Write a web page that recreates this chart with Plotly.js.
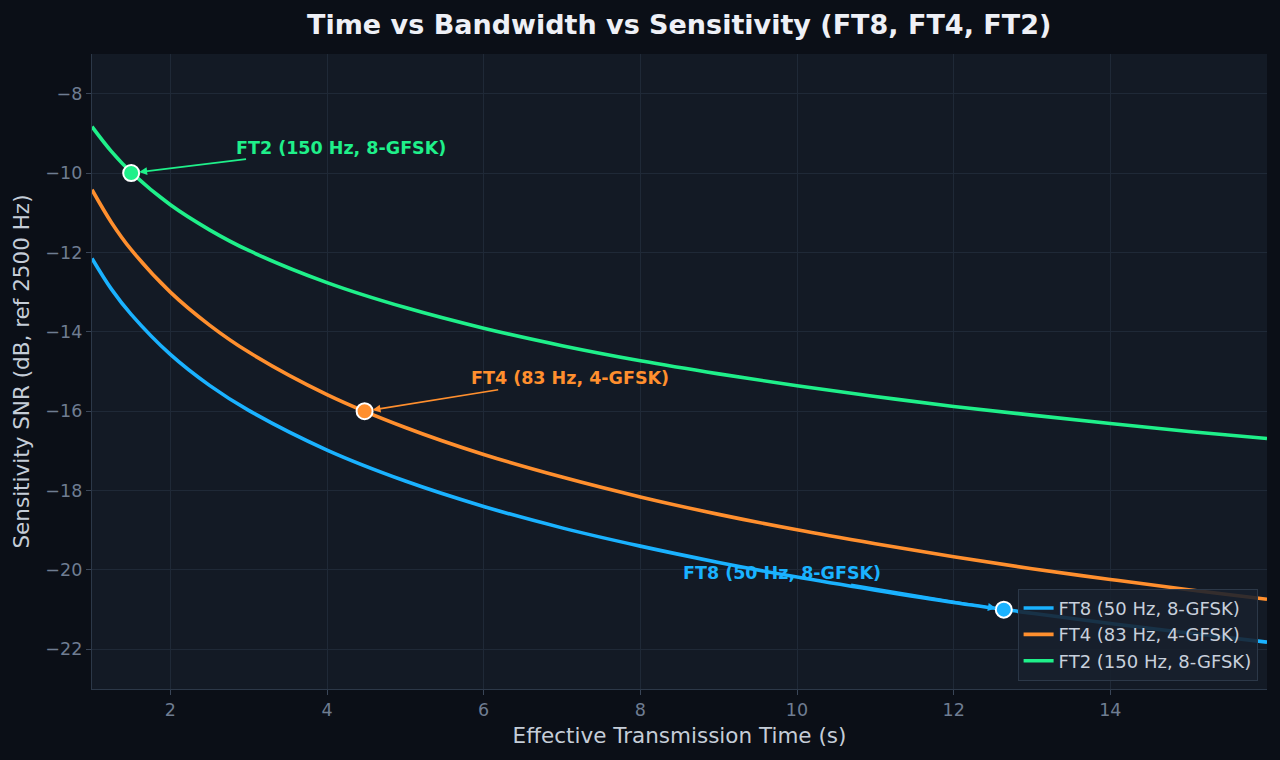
<!DOCTYPE html>
<html>
<head>
<meta charset="utf-8">
<script src="https://cdn.plot.ly/plotly-3.0.1.min.js"></script>
<style>
  html, body { margin: 0; padding: 0; background: #0b0f17; }
  #chart { width: 1280px; height: 760px; }
</style>
</head>
<body>
<div id="chart"></div>
<script>
// Effective transmission time (s)
const timeS = [1, 1.25, 1.5, 2, 2.5, 3, 4, 5, 6, 7, 8, 9, 10, 11, 12, 13, 14, 15, 16];
// Sensitivity SNR (dB, ref 2500 Hz)
const ft8Snr = [-12.15, -12.93, -13.56, -14.57, -15.35, -15.98, -16.98, -17.76, -18.40, -18.94, -19.40, -19.81, -20.18, -20.51, -20.82, -21.09, -21.35, -21.59, -21.82];
const ft4Snr = [-10.42, -11.25, -11.93, -13.00, -13.83, -14.51, -15.58, -16.41, -17.09, -17.66, -18.16, -18.60, -18.99, -19.34, -19.67, -19.97, -20.24, -20.50, -20.74];
const ft2Snr = [-8.83, -9.46, -9.98, -10.80, -11.43, -11.95, -12.76, -13.39, -13.91, -14.35, -14.73, -15.06, -15.36, -15.63, -15.88, -16.10, -16.31, -16.51, -16.69];

const seriesNames = ["FT8 (50 Hz, 8-GFSK)", "FT4 (83 Hz, 4-GFSK)", "FT2 (150 Hz, 8-GFSK)"];
const seriesColors = ["#1ab2ff", "#ff8f2e", "#1ff08a"];

// Operating points of each mode
const opTime = [12.64, 4.48, 1.5];
const opSnr = [-21, -16, -10];
// Label positions (centre of label text)
const labelTime = [9.81, 7.10, 4.18];
const labelSnr = [-20.07, -15.17, -9.36];

const seriesY = [ft8Snr, ft4Snr, ft2Snr];

const traces = [];
for (let i = 0; i < 3; i++) {
  traces.push({
    x: timeS, y: seriesY[i], type: "scatter", mode: "lines",
    name: seriesNames[i],
    line: { color: seriesColors[i], width: 3.6, shape: "spline", smoothing: 1 },
    hoverinfo: "skip"
  });
}
for (let i = 0; i < 3; i++) {
  traces.push({
    x: [opTime[i]], y: [opSnr[i]], type: "scatter", mode: "markers",
    showlegend: false,
    marker: { color: seriesColors[i], size: 16, line: { color: "#ffffff", width: 2 } },
    hoverinfo: "skip"
  });
}

const annotations = [];
for (let i = 0; i < 3; i++) {
  annotations.push({
    x: opTime[i], y: opSnr[i], xref: "x", yref: "y",
    ax: labelTime[i], ay: labelSnr[i], axref: "x", ayref: "y",
    text: "<b>" + seriesNames[i] + "</b>",
    showarrow: true, arrowhead: 2, arrowsize: 1, arrowwidth: 1.6,
    arrowcolor: seriesColors[i], standoff: 8,
    font: { family: "DejaVu Sans", size: 17.5, color: seriesColors[i] }
  });
}

const gridColor = "#1f2937";
const layout = {
  width: 1280, height: 760,
  paper_bgcolor: "#0b0f17",
  plot_bgcolor: "#131a25",
  font: { family: "DejaVu Sans", color: "#c5cdd8" },
  margin: { l: 92, r: 13, t: 54, b: 71 },
  title: {
    text: "<b>Time vs Bandwidth vs Sensitivity (FT8, FT4, FT2)</b>",
    x: 0.5306, xanchor: "center", y: 0.968, yanchor: "middle",
    font: { family: "DejaVu Sans", size: 27, color: "#eef0f6" }
  },
  xaxis: {
    range: [1, 16], tickvals: [2, 4, 6, 8, 10, 12, 14],
    showgrid: true, gridcolor: gridColor, gridwidth: 1,
    zeroline: false, showline: true, linecolor: "#2c3848", linewidth: 1.2,
    ticks: "outside", ticklen: 5, tickcolor: "#3a4658",
    tickfont: { family: "DejaVu Sans", size: 17.5, color: "#6f7d92" },
    title: { text: "Effective Transmission Time (s)", standoff: 8,
             font: { family: "DejaVu Sans", size: 21.5, color: "#c5cdd8" } }
  },
  yaxis: {
    range: [-23, -7], tickvals: [-22, -20, -18, -16, -14, -12, -10, -8],
    showgrid: true, gridcolor: gridColor, gridwidth: 1,
    zeroline: false, showline: true, linecolor: "#2c3848", linewidth: 1.2,
    ticks: "outside", ticklen: 5, tickcolor: "#3a4658",
    tickfont: { family: "DejaVu Sans", size: 17.5, color: "#6f7d92" },
    title: { text: "Sensitivity SNR (dB, ref 2500 Hz)", standoff: 9,
             font: { family: "DejaVu Sans", size: 21.5, color: "#c5cdd8" } }
  },
  legend: {
    x: 0.992, xanchor: "right", y: 0.013, yanchor: "bottom",
    bgcolor: "rgba(24,32,45,0.88)", bordercolor: "#2c3848", borderwidth: 1,
    font: { family: "DejaVu Sans", size: 18, color: "#c8d0dc" },
    tracegroupgap: 2
  },
  annotations: annotations,
  showlegend: true
};

Plotly.newPlot("chart", traces, layout, { displayModeBar: false, staticPlot: true });
</script>
</body>
</html>
